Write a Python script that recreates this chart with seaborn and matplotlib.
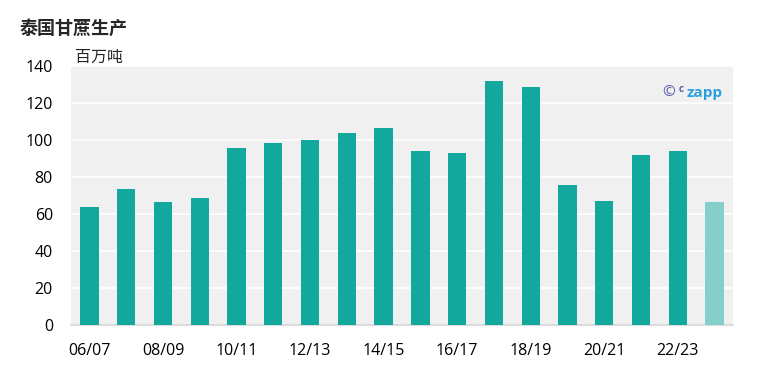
import numpy as np
import pandas as pd
import matplotlib.pyplot as plt
import seaborn as sns

# crop years and Thai sugarcane output (million tonnes)
seasons = ["06/07", "07/08", "08/09", "09/10", "10/11", "11/12", "12/13", "13/14", "14/15",
           "15/16", "16/17", "17/18", "18/19", "19/20", "20/21", "21/22", "22/23", "23/24"]
output = [63.8, 73.6, 66.5, 68.7, 95.7, 98.3, 100.0, 103.8, 106.4,
          94.0, 93.0, 131.7, 128.6, 75.6, 67.0, 92.0, 94.0, 66.5]
forecast = [False] * 17 + [True]

sns.set_style("white")
plt.rcParams['font.family'] = ['Open Sans', 'Noto Sans CJK SC', 'DejaVu Sans']

df = pd.DataFrame({"season": seasons, "output": output})
colors = ["#84cfc9" if f else "#13a89e" for f in forecast]

W, H = 761, 380
fig = plt.figure(figsize=(7.61, 3.80), dpi=100)
ax = fig.add_axes([71 / W, 55 / H, 662 / W, 259 / H])
ax.set_facecolor("#f0f0f0")

sns.barplot(data=df, x="season", y="output", hue="season", palette=colors,
            legend=False, width=0.5, saturation=1, linewidth=0, ax=ax, zorder=3)

ax.set_ylim(0, 140)
ax.set_yticks(np.arange(0, 141, 20))
ax.set_xlim(-0.5, 17.5)
ax.yaxis.grid(True, color="white", linewidth=1.2, zorder=0)
ax.set_axisbelow(True)
ax.set_xticks(range(0, 18, 2))
ax.set_xticklabels(seasons[::2])
ax.tick_params(axis="both", length=0, labelsize=11.5, colors="black")
ax.tick_params(axis="x", pad=13)
ax.tick_params(axis="y", pad=13)
ax.set_xlabel("")
ax.set_ylabel("")
for s in ["top", "right", "left"]:
    ax.spines[s].set_visible(False)
ax.spines["bottom"].set_color("#dcdcdc")
ax.spines["bottom"].set_linewidth(1.5)

fig.text(20 / W, 1 - 28 / H, "泰国甘蔗生产", fontsize=13, fontweight="bold", va="center",
         family=['Noto Sans CJK SC', 'DejaVu Sans'])
fig.text(75 / W, 1 - 57 / H, "百万吨", fontsize=11.5, va="center",
         family=['Noto Sans CJK SC', 'DejaVu Sans'])

# watermark
fig.text(662 / W, 1 - 93 / H, "©", fontsize=11, color="#5b5ba8", va="center")
fig.text(679 / W, 1 - 89 / H, "c", fontsize=7, color="#5b5ba8", va="center", fontweight="bold")
fig.text(687 / W, 1 - 93 / H, "zapp", fontsize=11, color="#2aa0dc", va="center", fontweight="bold")

fig.savefig("out.png", dpi=100)
